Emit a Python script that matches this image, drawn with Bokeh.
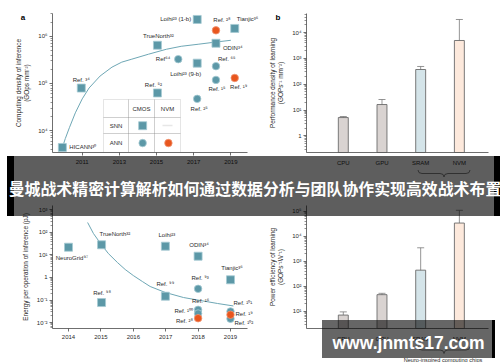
import math
from bokeh.plotting import figure
from bokeh.models import (ColumnDataSource, Range1d, FixedTicker, CustomJSTickFormatter,
                          LabelSet, Label, BoxAnnotation, Whisker, TeeHead, GridBox, Div)
from bokeh.core.properties import value, field
from bokeh.embed import file_html
from bokeh.resources import INLINE

# ---------------- data ----------------
# panel a: computing density of inference
a_names = ["HICANN³⁰", "Ref. ³⁴", "TrueNorth³²", "Loihi²³ (1-b)", "Ref. ²⁸", "Tianjic³⁶", "ODIN³⁴",
           "Ref⁶⁴", "Loihi²³ (9-b)", "Ref. ⁶⁵", "Ref. ¹⁵", "Ref. ¹⁹", "Ref. ⁵²", "Ref. ²⁵"]
a_year = [2009.93, 2010.95, 2015.05, 2017.19, 2018.2, 2019.21, 2018.2,
          2016.17, 2017.19, 2018.2, 2018.2, 2019.21, 2015.05, 2017.19]
a_density = [4400, 80000, 647000, 2280000, 1340000, 1470000, 713000,
             328000, 270000, 233000, 119000, 131000, 63000, 47200]
a_type = ["SNN-CMOS", "SNN-CMOS", "SNN-CMOS", "SNN-CMOS", "ANN-NVM", "SNN-CMOS", "SNN-CMOS",
          "ANN-CMOS", "SNN-CMOS", "ANN-CMOS", "ANN-CMOS", "ANN-NVM", "SNN-CMOS", "ANN-CMOS"]
a_curve_year = [2009.93, 2010.09, 2010.31, 2010.63, 2011.0, 2011.37, 2011.96, 2012.6,
                2013.13, 2013.67, 2014.57, 2015.53, 2016.33, 2017.24, 2018.09, 2019.0]
a_curve_density = [4385, 6800, 11570, 23900, 47200, 80300, 143800, 222000,
                   283800, 328000, 418000, 532000, 615000, 679000, 748000, 824000]
a_xticks = [2011, 2013, 2015, 2017, 2019]
a_yticks = [1e4, 1e5, 1e6]
a_ylabels = ["10⁴", "10⁵", "10⁶"]
a_table_cols = ["CMOS", "NVM"]
a_table_rows = ["SNN", "ANN"]

# panel b: performance density of learning
b_cats = ["CPU", "GPU", "SRAM", "NVM"]
b_perf = [5.1, 16.3, 371, 4940]
b_err_hi = [5.6, 25.5, 486, 32200]
b_err_lo = [2.3, 13.7, 260, 68]
b_yticks = [1, 10, 100, 1000, 10000]
b_ylabels = ["1", "10¹", "10²", "10³", "10⁴"]

# panel c: energy per operation of inference
c_names = ["NeuroGrid⁹⁷", "TrueNorth³²", "Loihi²³", "ODIN³⁴", "Tianjic³⁶", "Ref. ⁹³", "Ref. ⁹⁸",
           "Ref. ⁹⁹", "Ref. ¹⁶", "Ref. ¹⁰⁰", "Ref. ²⁸", "Ref. ¹⁰¹", "Ref. ¹⁹", "Ref. ¹⁰²"]
c_year = [2014.0, 2015.02, 2016.99, 2018.0, 2019.0, 2018.0, 2015.02,
          2016.99, 2018.0, 2018.0, 2018.0, 2019.0, 2019.0, 2019.0]
c_energy = [21.9, 28, 24.3, 8.76, 0.79, 0.316, 0.078,
            0.149, 0.0372, 0.0255, 0.0158, 0.0313, 0.0224, 0.0149]
c_type = ["SNN-CMOS", "SNN-CMOS", "SNN-CMOS", "SNN-CMOS", "SNN-CMOS", "ANN-CMOS", "SNN-CMOS",
          "SNN-CMOS", "ANN-CMOS", "ANN-CMOS", "ANN-NVM", "ANN-CMOS", "ANN-NVM", "ANN-CMOS"]
c_curve_year = [2014.59, 2014.77, 2014.99, 2015.23, 2015.51, 2015.75, 2016.0,
                2016.28, 2016.52, 2016.99, 2017.55, 2018.07, 2018.6, 2019.09]
c_curve_energy = [271.6, 88.5, 31.9, 11.5, 4.61, 2.26, 1.22,
                  0.665, 0.4, 0.217, 0.13, 0.096, 0.0707, 0.055]
c_xticks = [2014, 2015, 2016, 2017, 2018, 2019]
c_yticks = [0.01, 0.1, 1, 10, 100, 1000]
c_ylabels = ["10⁻²", "10⁻¹", "1", "10¹", "10²", "10³"]

# panel d: power efficiency of learning
d_cats = ["CPU", "GPU", "SRAM", "NVM"]
d_eff = [7.0, 46, 439, 33700]
d_err_hi = [9.4, 52, 3450, 109000]
d_err_lo = [4.8, 42, 8.6, 151]
d_yticks = [10, 100, 1000, 10000, 100000]
d_ylabels = ["10¹", "10²", "10³", "10⁴", "10⁵"]

banner_text = "曼城战术精密计算解析如何通过数据分析与团队协作实现高效战术布置"
watermark_text = "www.jnmts17.com"
chips_text = "Neuro-inspired computing chips"
panel_letters = ["a", "b"]

# ---------------- layout / style ----------------
FONT = "Liberation Sans"
CJK = "Noto Sans CJK SC"
TEAL = "#5c98a7"
TEAL_EDGE = "#a6cad3"
ORANGE = "#e8561e"
ORANGE_EDGE = "#f09673"
CURVE = "#6ea7b5"
AXIS = "#4a4a4a"
TXT = "#2a2a2a"
BAR_FILL = ["#d9d3d1", "#d9d3d1", "#d4e4e9", "#fde9dc"]
BAR_LINE = "#6b6b6b"
ERR = "#7a7a7a"

# figure origin on the page, frame edges (local px), axis extent (R) and frame extent (Rf)
FR_A = dict(ox=0, oy=0, W=265, H=181, L=50, R=247, Rf=265, T=12, B=152,
            x0=2009.4, x1=2019.907, ly0=3.537, ly1=6.484)
FR_B = dict(ox=265, oy=0, W=235, H=181, L=40, R=223, Rf=223, T=13, B=152,
            x0=-0.951, x1=3.753, ly0=-0.647, ly1=4.74)
FR_C = dict(ox=0, oy=181, W=265, H=181, L=52, R=247, Rf=265, T=24, B=147,
            x0=2013.506, x1=2019.525, ly0=-2.257, ly1=3.186)
FR_D = dict(ox=265, oy=181, W=235, H=181, L=40, R=223, Rf=223, T=19, B=147,
            x0=-0.951, x1=3.753, ly0=0.308, ly1=5.23)

LOGFMT = """
for (let i = 0; i < vals.length; i++) {
  if (Math.abs(Math.log10(vals[i]) - Math.log10(tick)) < 1e-6) return labs[i];
}
return "";
"""


def px2data(fr, px, py):
    lx, ly = px - fr["ox"], py - fr["oy"]
    x = fr["x0"] + (lx - fr["L"]) / (fr["R"] - fr["L"]) * (fr["x1"] - fr["x0"])
    lg = fr["ly1"] - (ly - fr["T"]) / (fr["B"] - fr["T"]) * (fr["ly1"] - fr["ly0"])
    return x, 10 ** lg


def minor_ticks(fr):
    out = []
    for e in range(math.floor(fr["ly0"]), math.ceil(fr["ly1"]) + 1):
        for k in range(2, 10):
            v = k * 10 ** e
            if 10 ** fr["ly0"] < v < 10 ** fr["ly1"]:
                out.append(v)
    return out


def make_fig(fr):
    xf = fr["x0"] + (fr["Rf"] - fr["L"]) / (fr["R"] - fr["L"]) * (fr["x1"] - fr["x0"])
    p = figure(width=fr["W"], height=fr["H"],
               x_range=Range1d(fr["x0"], xf),
               y_range=Range1d(10 ** fr["ly0"], 10 ** fr["ly1"]),
               y_axis_type="log", output_backend="svg", toolbar_location=None,
               min_border_left=fr["L"], min_border_right=fr["W"] - fr["Rf"],
               min_border_top=fr["T"], min_border_bottom=fr["H"] - fr["B"])
    p.outline_line_color = None
    p.grid.visible = False
    p.background_fill_color = "white"
    p.border_fill_color = "white"
    p.xaxis.bounds = (fr["x0"], fr["x1"])
    for ax in p.axis:
        ax.axis_line_color = AXIS
        ax.axis_line_width = 0.8
        ax.major_tick_line_color = AXIS
        ax.major_tick_line_width = 0.8
        ax.minor_tick_line_color = AXIS
        ax.minor_tick_line_width = 0.6
        ax.major_tick_in = 0
        ax.major_tick_out = 3
        ax.minor_tick_in = 0
        ax.minor_tick_out = 2
        ax.major_label_text_font = FONT
        ax.major_label_text_font_size = "6px"
        ax.major_label_text_color = TXT
        ax.major_label_standoff = 2
        ax.axis_label_text_font = FONT
        ax.axis_label_text_font_size = "6.4px"
        ax.axis_label_text_font_style = "normal"
        ax.axis_label_text_color = TXT
        ax.axis_label_standoff = 5
    return p


def log_yaxis(p, fr, ticks, labels, title):
    p.yaxis.ticker = FixedTicker(ticks=ticks, minor_ticks=minor_ticks(fr))
    p.yaxis.formatter = CustomJSTickFormatter(args=dict(vals=ticks, labs=labels), code=LOGFMT)
    p.yaxis.axis_label = title


def cbox(p, fr, l, r, t, b, **kw):
    p.add_layout(BoxAnnotation(left=l - fr["ox"], right=r - fr["ox"], top=t - fr["oy"], bottom=b - fr["oy"],
                               left_units="canvas", right_units="canvas",
                               top_units="canvas", bottom_units="canvas", **kw))


def clabel(p, fr, x, y, text, **kw):
    base = dict(text_font=FONT, text_font_size="6px", text_color=TXT,
                text_align="center", text_baseline="middle")
    base.update(kw)
    p.add_layout(Label(x=x - fr["ox"], y=y - fr["oy"], x_units="canvas", y_units="canvas",
                       text=text, **base))


def scatter_points(p, xs, ys, types):
    styles = [("SNN-CMOS", "square", TEAL, TEAL_EDGE, 8),
              ("ANN-CMOS", "circle", TEAL, TEAL_EDGE, 7.5),
              ("ANN-NVM", "circle", ORANGE, ORANGE_EDGE, 7.5)]
    for kind, marker, fill, edge, size in styles:
        idx = [i for i, t in enumerate(types) if t == kind]
        p.scatter([xs[i] for i in idx], [ys[i] for i in idx], marker=marker, size=size,
                  fill_color=fill, line_color=edge, line_width=0.8)


def point_labels(p, xs, ys, names, dx, dy, align):
    src = ColumnDataSource(dict(x=xs, y=ys, name=names, dx=dx, dy=[-v for v in dy], align=align))
    p.add_layout(LabelSet(x="x", y="y", text="name", x_offset="dx", y_offset="dy",
                          text_align=field("align"), text_baseline="middle",
                          text_font=value(FONT), text_font_size="6px", text_color=TXT,
                          source=src))


def bar_panel(p, fr, cats, vals, hi, lo):
    idx = list(range(len(cats)))
    p.vbar(x=idx, top=vals, bottom=10 ** fr["ly0"], width=0.257, fill_color=BAR_FILL,
           line_color=BAR_LINE, line_width=0.9)
    src = ColumnDataSource(dict(x=idx, hi=hi, lo=lo))
    p.add_layout(Whisker(source=src, base="x", upper="hi", lower="lo", line_color=ERR, line_width=0.8,
                         upper_head=TeeHead(size=7, line_color=ERR, line_width=0.8),
                         lower_head=TeeHead(size=7, line_color=ERR, line_width=0.8)))
    p.xaxis.ticker = FixedTicker(ticks=idx)
    p.xaxis.major_label_overrides = {i: c for i, c in enumerate(cats)}
    p.xaxis.major_tick_line_color = None
    p.xaxis.major_label_standoff = 4


# ---------------- panel a ----------------
pa = make_fig(FR_A)
pa.line(a_curve_year, a_curve_density, line_color=CURVE, line_width=1)
scatter_points(pa, a_year, a_density, a_type)
a_lab_dx = [7, 0, 1, -6, 6, 2, 7, -8, -11.5, 2, 1, 4, -4, 2]
a_lab_dy = [0, -8, -9, 0, -10, -9, 5, 0, 11, -7, 9, 9, -8, 10]
a_lab_align = ["left", "center", "center", "right", "center", "left", "left",
               "right", "center", "left", "center", "center", "center", "center"]
point_labels(pa, a_year, a_density, a_names, a_lab_dx, a_lab_dy, a_lab_align)
pa.xaxis.ticker = FixedTicker(ticks=a_xticks)
pa.xaxis.major_label_standoff = 4
log_yaxis(pa, FR_A, a_yticks, a_ylabels, "Computing density of inference\n(GOps mm⁻²)")

# legend table (page pixels)
col_edges = [103, 128, 154, 180]
row_edges = [99, 117, 133, 152]
for i in range(3):
    for j in range(3):
        cbox(pa, FR_A, col_edges[i], col_edges[i + 1], row_edges[j], row_edges[j + 1],
             fill_alpha=0, line_color="#707070", line_width=0.6)
for i, t in enumerate(a_table_cols):
    clabel(pa, FR_A, (col_edges[i + 1] + col_edges[i + 2]) / 2, 108.5, t)
for j, t in enumerate(a_table_rows):
    clabel(pa, FR_A, 115.5, (row_edges[j + 1] + row_edges[j + 2]) / 2, t)
mx, my = px2data(FR_A, 141, 125)
pa.scatter([mx], [my], marker="square", size=8, fill_color=TEAL, line_color=TEAL_EDGE, line_width=0.8)
mx, my = px2data(FR_A, 141, 142.5)
pa.scatter([mx], [my], marker="circle", size=7.5, fill_color=TEAL, line_color=TEAL_EDGE, line_width=0.8)
mx, my = px2data(FR_A, 167, 142.5)
pa.scatter([mx], [my], marker="circle", size=7.5, fill_color=ORANGE, line_color=ORANGE_EDGE, line_width=0.8)
cbox(pa, FR_A, 162, 172, 124.3, 125.7, fill_color="#c4c4c4", line_alpha=0)

# ---------------- panel b ----------------
pb = make_fig(FR_B)
bar_panel(pb, FR_B, b_cats, b_perf, b_err_hi, b_err_lo)
log_yaxis(pb, FR_B, b_yticks, b_ylabels, "Performance density of learning\n(GOPs⁻¹ mm⁻²)")

# ---------------- panel c ----------------
pc = make_fig(FR_C)
pc.line(c_curve_year, c_curve_energy, line_color=CURVE, line_width=1)
scatter_points(pc, c_year, c_energy, c_type)
c_lab_dx = [3.5, -2, 1.5, 1, 1.5, 2, 0.5, 0, 2.5, -5, -5, 3, 5, 4]
c_lab_dy = [11, -11, -11, -11, -12, -11, -10, -12, -8.5, -3, 2.5, -8, -1, 4]
c_lab_align = ["center", "left", "center", "center", "center", "center", "center",
               "center", "center", "right", "right", "left", "left", "left"]
point_labels(pc, c_year, c_energy, c_names, c_lab_dx, c_lab_dy, c_lab_align)
pc.xaxis.ticker = FixedTicker(ticks=c_xticks)
pc.xaxis.major_label_standoff = 3
log_yaxis(pc, FR_C, c_yticks, c_ylabels, "Energy per operation of inference (pJ)")

# ---------------- panel d ----------------
pd_ = make_fig(FR_D)
bar_panel(pd_, FR_D, d_cats, d_eff, d_err_hi, d_err_lo)
log_yaxis(pd_, FR_D, d_yticks, d_ylabels, "Power efficiency of learning\n(GOPs⁻¹W⁻¹)")

# ---------------- page overlay (letters, braces, banner, watermark) ----------------


def abs_text(cx, cy, w, h, text, css):
    return (f'<div style="position:absolute;left:{cx - w / 2}px;top:{cy - h / 2}px;width:{w}px;'
            f'height:{h}px;line-height:{h}px;text-align:center;white-space:nowrap;{css}">{text}</div>')


def brace_path(top):
    return (f'M413,{top} Q413,{top + 3.5} 417,{top + 3.5} L435,{top + 3.5} '
            f'Q439,{top + 3.5} 439,{top + 7} Q439,{top + 3.5} 443,{top + 3.5} '
            f'L461,{top + 3.5} Q465,{top + 3.5} 465,{top}')


small = f"font-family:'{FONT}';font-size:5.6px;color:{TXT};"
letter = f"font-family:'{FONT}';font-size:8px;font-weight:bold;color:black;"
parts = []
parts.append('<svg width="500" height="362" style="position:absolute;left:0;top:0;overflow:visible">'
             f'<path d="{brace_path(165)}" stroke="#666" stroke-width="0.8" fill="none"/>'
             f'<path d="{brace_path(341.5)}" stroke="#666" stroke-width="0.8" fill="none"/></svg>')
parts.append(abs_text(438, 355, 120, 8, chips_text, small))
for t, (cx, cy) in zip(panel_letters, [(18, 13), (273, 13)]):
    parts.append(abs_text(cx, cy, 10, 10, t, letter))
parts.append('<div style="position:absolute;left:2px;top:151px;width:498px;height:60px;'
             'background:linear-gradient(to right,#000 0px,#000 7px,rgba(0,0,0,0.63) 7px,'
             'rgba(0,0,0,0.63) 487px,#000 487px,#000 498px);"></div>')
parts.append(abs_text(250, 183.5, 496, 24, banner_text,
                      f"font-family:'{CJK}';font-size:15.9px;font-weight:bold;color:white;"))
parts.append('<div style="position:absolute;left:317px;top:315px;width:173px;height:38px;'
             'background:linear-gradient(to right,rgba(0,0,0,0.6) 0px,rgba(0,0,0,0.6) 170px,'
             '#000 170px,#000 173px);"></div>')
parts.append(abs_text(403.5, 337.8, 200, 20, watermark_text,
                      f"font-family:'{FONT}';font-size:17.5px;font-weight:bold;color:white;"))
overlay_html = '<div style="position:relative;width:500px;height:362px;">' + "".join(parts) + '</div>'
overlay = Div(text=overlay_html, width=500, height=362,
              styles={"z-index": "10", "pointer-events": "none"})

layout = GridBox(children=[(pa, 0, 0), (pb, 0, 1), (pc, 1, 0), (pd_, 1, 1), (overlay, 0, 0, 2, 2)],
                 rows=["181px", "181px"], cols=["265px", "235px"], spacing=0)
open("out.html", "w").write(file_html(layout, INLINE))
